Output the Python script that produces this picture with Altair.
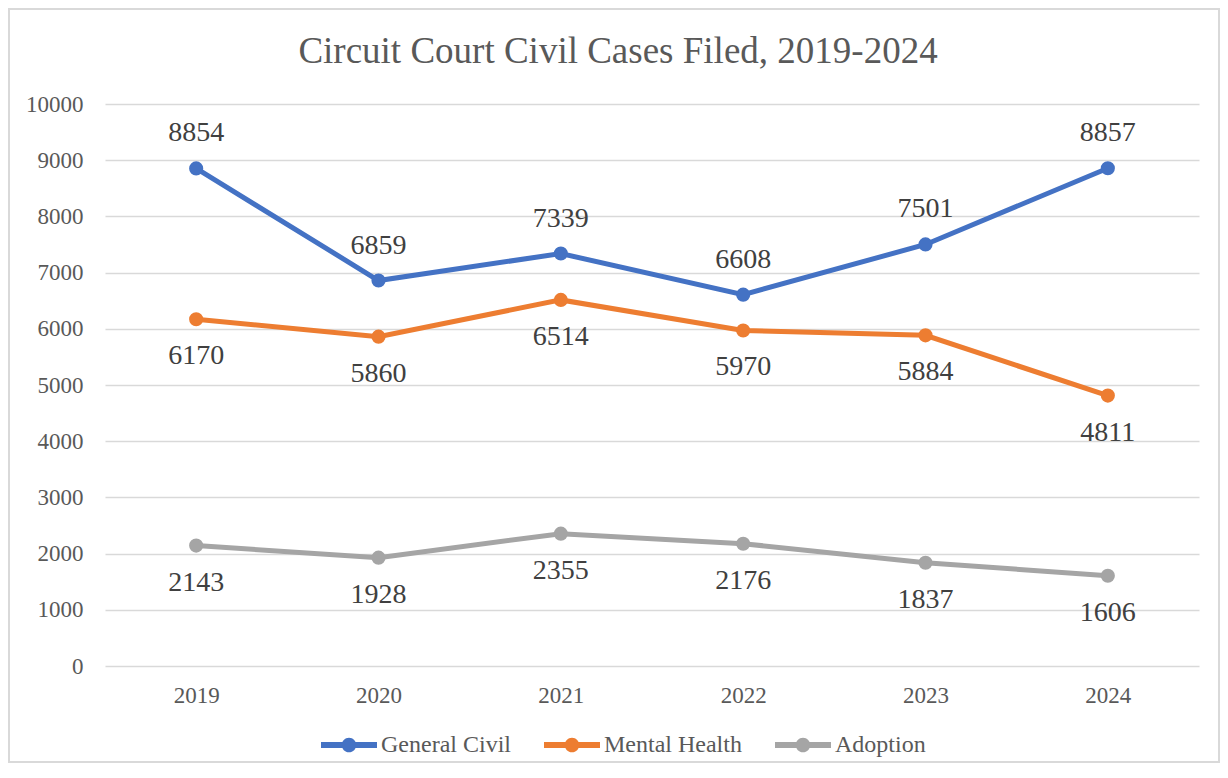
import altair as alt
import pandas as pd

years = ["2019", "2020", "2021", "2022", "2023", "2024"]
general_civil = [8854, 6859, 7339, 6608, 7501, 8857]
mental_health = [6170, 5860, 6514, 5970, 5884, 4811]
adoption = [2143, 1928, 2355, 2176, 1837, 1606]
series_names = ["General Civil", "Mental Health", "Adoption"]
series_colors = ["#4472C4", "#ED7D31", "#A5A5A5"]
label_pos = ["above", "below", "below"]
title_text = "Circuit Court Civil Cases Filed, 2019-2024"

rows = []
for name, vals, pos in zip(series_names, [general_civil, mental_health, adoption], label_pos):
    for y, v in zip(years, vals):
        rows.append({"Year": y, "Cases": v, "Series": name, "pos": pos})
df = pd.DataFrame(rows)

FONT = "Liberation Serif"
W, H = 1094, 562
color_scale = alt.Scale(domain=series_names, range=series_colors)

symbol_path = (
    "M-1,-0.107 L1,-0.107 L1,0.107 L-1,0.107 Z "
    "M-0.26,0 A0.26,0.26 0 1,1 0.26,0 A0.26,0.26 0 1,1 -0.26,0 Z"
)

legend = alt.Legend(
    title=None, orient="none", legendX=216, legendY=613, direction="horizontal",
    symbolType=symbol_path, symbolSize=3136, symbolStrokeWidth=0,
    symbolStrokeColor="transparent",
    labelFont=FONT, labelFontSize=24, labelColor="#595959",
    labelOffset=4, columnPadding=33, padding=0,
)

color = alt.Color("Series:N", scale=color_scale, sort=series_names, legend=legend)

base = alt.Chart(df).encode(
    x=alt.X(
        "Year:N",
        sort=years,
        title=None,
        axis=alt.Axis(
            labelAngle=0, domain=False, ticks=False, labelPadding=18,
            labelFont=FONT, labelFontSize=23, labelColor="#595959", grid=False,
        ),
    ),
    y=alt.Y(
        "Cases:Q",
        title=None,
        scale=alt.Scale(domain=[0, 10000], nice=False),
        axis=alt.Axis(
            values=list(range(0, 10001, 1000)), format="d", domain=False, ticks=False,
            labelPadding=22, labelFont=FONT, labelFontSize=23, labelColor="#595959",
            gridColor="#D9D9D9", gridWidth=1.5,
        ),
    ),
)

lines = base.mark_line(strokeWidth=5).encode(color=color)

points = base.mark_circle(size=200, opacity=1).encode(color=color)

labels_above = base.transform_filter(alt.datum.pos == "above").mark_text(
    dy=-35, font=FONT, fontSize=28, color="#404040", baseline="middle"
).encode(text="Cases:Q")

labels_below = base.transform_filter(alt.datum.pos == "below").mark_text(
    dy=37, font=FONT, fontSize=28, color="#404040", baseline="middle"
).encode(text="Cases:Q")

one = pd.DataFrame({"a": [0]})

border = alt.Chart(one).mark_rect(
    fill=None, stroke="#D9D9D9", strokeWidth=2
).encode(
    x=alt.value(-96), x2=alt.value(W + 20), y=alt.value(-95), y2=alt.value(H + 96)
)

title = alt.Chart(one).mark_text(
    font=FONT, fontSize=37, color="#595959", align="center", baseline="alphabetic"
).encode(
    x=alt.value(W / 2 - 34), y=alt.value(-41), text=alt.value(title_text)
)

chart = alt.layer(border, title, lines, points, labels_above, labels_below).properties(
    width=W,
    height=H,
    autosize=alt.AutoSizeParams(type="none"),
    padding={"left": 97, "top": 96, "right": 21, "bottom": 98},
).configure(background="white").configure_view(stroke=None)

chart.save("out.html", embed_options={"renderer": "svg", "actions": False})
